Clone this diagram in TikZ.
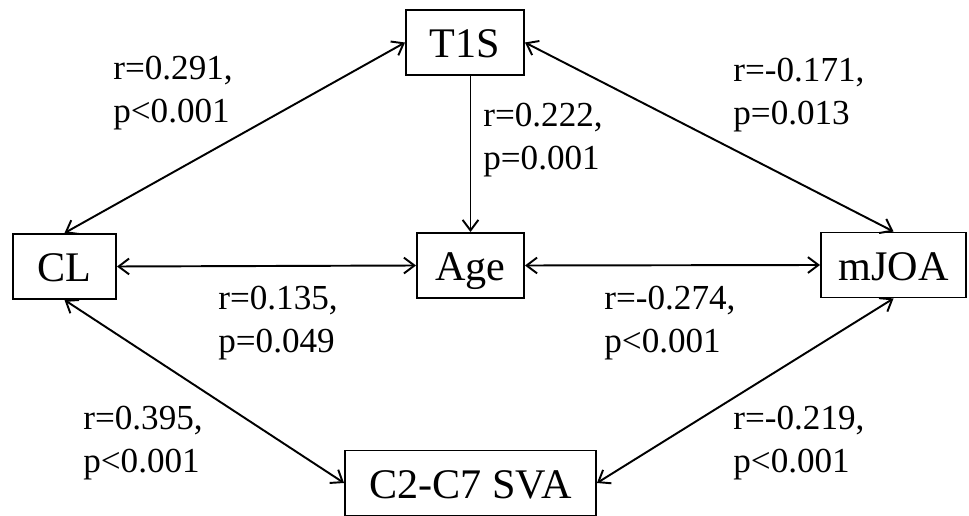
\documentclass[tikz,border=0pt]{standalone}
\usepackage{fontspec}
\setmainfont{Liberation Serif}
\usetikzlibrary{arrows.meta}

\tikzset{
  box/.style={draw, line width=1.1pt, minimum height=1.3cm, inner sep=0pt,
    text height=0.8cm, text depth=0.18cm,
    font=\fontsize{24}{28}\selectfont},
  corr/.style={anchor=west, align=left, inner sep=0pt,
    font=\fontsize{20}{24.5}\selectfont},
  tip/.tip={Straight Barb[length=6pt,width=9pt]},
  link/.style={line width=1.1pt, tip-tip},
  onelink/.style={line width=1.1pt, -tip},
}

\begin{document}
\begin{tikzpicture}[x=0.02cm,y=0.02cm]
\useasboundingbox (0,0) rectangle (969,-516);

% boxes
\node[box, minimum width=2.36cm] (T1S) at (465,-42.5) {T1S};
\node[box, minimum width=2.06cm] (CL) at (64.5,-266.5) {CL};
\node[box, minimum width=2.14cm] (Age) at (470.5,-265.5) {Age};
\node[box, minimum width=2.9cm] (mJOA) at (893.5,-265) {mJOA};
\node[box, minimum width=5.02cm] (SVA) at (470.5,-483) {C2-C7 SVA};

% connectors
\draw[link] (CL.north) -- (T1S.west);
\draw[link] (T1S.east) -- (mJOA.north);
\draw[onelink] (T1S.south -| Age.north) -- (Age.north);
\draw[link] (CL.east) -- (Age.west);
\draw[link] (Age.east) -- (mJOA.west);
\draw[link] (CL.south) -- (SVA.west);
\draw[link] (SVA.east) -- (mJOA.south);

% correlations
\node[corr] (rCLT) at (113,-93) {r=0.291,\\p<0.001};
\node[corr] (rTAge) at (483,-140) {r=0.222,\\p=0.001};
\node[corr] (rTm) at (733,-95) {r=-0.171,\\p=0.013};
\node[corr] (rCLAge) at (218,-323) {r=0.135,\\p=0.049};
\node[corr] (rAgem) at (604,-323) {r=-0.274,\\p<0.001};
\node[corr] (rCLS) at (83,-443) {r=0.395,\\p<0.001};
\node[corr] (rSm) at (733,-443) {r=-0.219,\\p<0.001};

\end{tikzpicture}
\end{document}
